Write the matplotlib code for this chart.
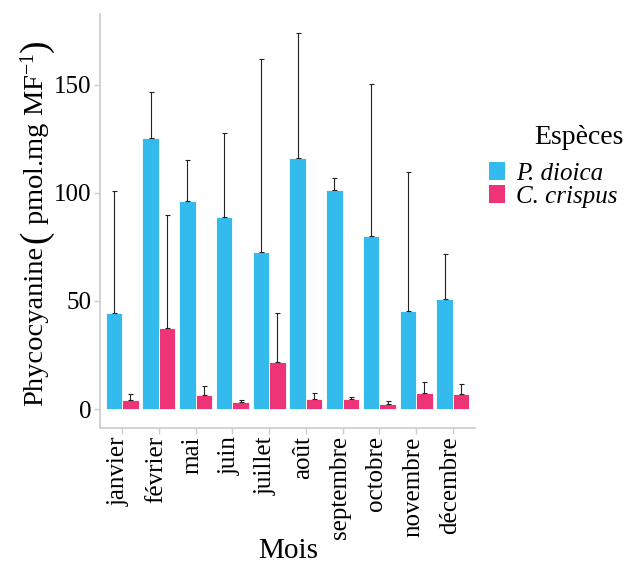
import numpy as np
import matplotlib
matplotlib.use("Agg")
import matplotlib.pyplot as plt
import matplotlib.transforms as mtransforms
from matplotlib.patches import Patch

plt.rcParams['font.family'] = ['Liberation Serif', 'DejaVu Serif']
plt.rcParams['mathtext.fontset'] = 'custom'
plt.rcParams['mathtext.rm'] = 'Liberation Serif'
plt.rcParams['mathtext.it'] = 'Liberation Serif:italic'

months = ["janvier", "février", "mai", "juin", "juillet", "août",
          "septembre", "octobre", "novembre", "décembre"]
species = ["P. dioica", "C. crispus"]
dioica_mean = [44.6, 125.4, 96.0, 88.9, 72.8, 116.2, 101.5, 79.9, 45.5, 51.1]
dioica_top = [101.0, 146.6, 115.3, 127.6, 161.6, 173.9, 107.0, 150.3, 109.8, 71.9]
crispus_mean = [4.4, 37.3, 6.7, 3.5, 21.9, 4.9, 4.6, 2.3, 7.4, 6.9]
crispus_top = [6.9, 89.5, 10.6, 4.1, 44.5, 7.7, 5.7, 4.0, 12.7, 11.8]
colors = ["#33BBEE", "#EE3377"]
yticks = [0, 50, 100, 150]

fig = plt.figure(figsize=(6.27, 5.64), dpi=100)
ax = fig.add_axes([100/627, 1-428/564, 375/627, 414/564])

x = np.arange(len(months))
w = 0.45
for i, (m, t) in enumerate([(dioica_mean, dioica_top), (crispus_mean, crispus_top)]):
    xi = x + (i - 0.5) * w
    m = np.array(m); t = np.array(t)
    ax.bar(xi, m, width=w, color=colors[i], edgecolor='white', linewidth=0.6, zorder=2)
    ax.errorbar(xi, m, yerr=[np.zeros_like(m), t - m], fmt='none', ecolor='#222222',
                elinewidth=0.8, capsize=1.8, capthick=0.8, zorder=3)

ax.set_xlim(-0.6, len(months) - 0.4)
ax.set_ylim(-8.7, 182.6)
ax.set_yticks(yticks)
ax.set_yticklabels([str(v) for v in yticks], fontsize=18)
ax.set_xticks(x)
ax.set_xticklabels(months, rotation=90, fontsize=18, ha='right', va='baseline',
                   rotation_mode='anchor')
ax.tick_params(axis='both', colors='#cccccc', length=4, width=1, labelcolor='black', pad=2)
ax.tick_params(axis='x', pad=2)
shift = mtransforms.ScaledTranslation(3/100, 0, fig.dpi_scale_trans)
for lab in ax.get_xticklabels():
    lab.set_transform(lab.get_transform() + shift)
for s in ['top', 'right']:
    ax.spines[s].set_visible(False)
for s in ['left', 'bottom']:
    ax.spines[s].set_color('#cccccc')
    ax.spines[s].set_linewidth(1.2)

fig.text(288/627, 1-551/564, "Mois", fontsize=21, ha='center', va='center')

# y label built from pieces so the parentheses can be larger
renderer = fig.canvas.get_renderer()
H = 564.0
pieces = [("Phycocyanine", 20.5, 0), ("(", 27, 3), ("pmol.mg MF$^{-1}$", 20.5, 5), (")", 27, 1)]
ypix = 406.0
for txt, fs, gap in pieces:
    ypix -= gap
    t = fig.text(36/627, 1 - ypix/H, txt, rotation=90, fontsize=fs, ha='center', va='bottom')
    bb = t.get_window_extent(renderer)
    ypix -= bb.height

fig.text(579/627, 1-138/564, "Espèces", fontsize=20, ha='center', va='center')
handles = [Patch(facecolor=colors[0], edgecolor='none'), Patch(facecolor=colors[1], edgecolor='none')]
leg = fig.legend(handles, species, loc='upper left', bbox_to_anchor=(489/627, 1-162/564),
                 frameon=False,
                 prop={'size': 18, 'style': 'italic', 'family': 'Liberation Serif'},
                 handlelength=0.64, handleheight=0.75, handletextpad=0.45,
                 labelspacing=0.0, borderaxespad=0, borderpad=0)

fig.savefig("out.png", dpi=100)
